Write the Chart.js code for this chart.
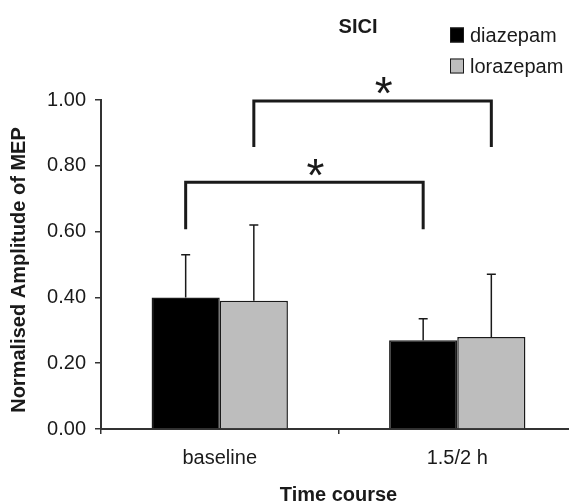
<!DOCTYPE html>
<html>
<head>
<meta charset="utf-8">
<script src="https://cdn.jsdelivr.net/npm/chart.js@4/dist/chart.umd.min.js"></script>
<style>
html,body{margin:0;padding:0;background:#fff;overflow:hidden;width:569px;height:504px;}
canvas{display:block;}
</style>
</head>
<body>
<canvas id="c" width="580" height="504"></canvas>
<script>
const categories = ['baseline', '1.5/2 h'];
const seriesNames = ['diazepam', 'lorazepam'];
const diazepam = [0.40, 0.27];
const lorazepam = [0.39, 0.28];
const diazepamSD = [0.13, 0.065];
const lorazepamSD = [0.23, 0.19];
const yTicks = [0.00, 0.20, 0.40, 0.60, 0.80, 1.00];
const chartTitle = 'SICI';
const yTitle = 'Normalised Amplitude of MEP';
const xTitle = 'Time course';
// significance brackets: dataset, from category, to category, bracket level, leg end level
const sigDataset = [0, 1];
const sigFrom = [0, 0];
const sigTo = [1, 1];
const sigLevel = [0.75, 0.997];
const sigEnd = [0.607, 0.857];
const sigLabel = ['*', '*'];

const FONT = '"Liberation Sans", Arial, sans-serif';
const INK = '#1a1a1a';
const colors = ['#000000', '#bdbdbd'];
const errs = [diazepamSD, lorazepamSD];

const overlay = {
  id: 'overlay',
  afterDatasetsDraw(chart) {
    const ctx = chart.ctx;
    const y = chart.scales.y;
    ctx.save();
    // error bars (upper)
    ctx.strokeStyle = INK;
    ctx.lineWidth = 1.5;
    chart.data.datasets.forEach((ds, di) => {
      const meta = chart.getDatasetMeta(di);
      meta.data.forEach((el, i) => {
        const top = y.getPixelForValue(ds.data[i] + errs[di][i]);
        ctx.beginPath();
        ctx.moveTo(el.x, el.y);
        ctx.lineTo(el.x, top);
        ctx.moveTo(el.x - 4.5, top);
        ctx.lineTo(el.x + 4.5, top);
        ctx.stroke();
      });
    });
    // brackets
    ctx.lineWidth = 3;
    ctx.lineCap = 'butt';
    ctx.lineJoin = 'miter';
    for (let k = 0; k < sigDataset.length; k++) {
      const meta = chart.getDatasetMeta(sigDataset[k]);
      const x1 = meta.data[sigFrom[k]].x;
      const x2 = meta.data[sigTo[k]].x;
      const yl = y.getPixelForValue(sigLevel[k]);
      const ye = y.getPixelForValue(sigEnd[k]);
      ctx.beginPath();
      ctx.moveTo(x1, ye);
      ctx.lineTo(x1, yl);
      ctx.lineTo(x2, yl);
      ctx.lineTo(x2, ye);
      ctx.stroke();
      ctx.fillStyle = INK;
      ctx.font = '46px ' + FONT;
      ctx.textAlign = 'center';
      ctx.textBaseline = 'alphabetic';
      const m = ctx.measureText(sigLabel[k]);
      const cy = yl - 15;
      const base = cy + (m.actualBoundingBoxAscent - m.actualBoundingBoxDescent) / 2;
      ctx.fillText(sigLabel[k], (x1 + x2) / 2 + 11, base);
    }
    ctx.restore();
  },
  afterDraw(chart) {
    const ctx = chart.ctx;
    const area = chart.chartArea;
    ctx.save();
    ctx.fillStyle = INK;
    // title
    ctx.font = 'bold 20px ' + FONT;
    ctx.textAlign = 'center';
    ctx.textBaseline = 'middle';
    ctx.fillText(chartTitle, 358, 27);
    // x title
    ctx.fillText(xTitle, (area.left + area.right) / 2, 495);
    // y title
    ctx.save();
    ctx.translate(19, 270);
    ctx.rotate(-Math.PI / 2);
    ctx.fillText(yTitle, 0, 0);
    ctx.restore();
    // legend
    ctx.font = '20px ' + FONT;
    ctx.textAlign = 'left';
    const ly = [35, 66];
    seriesNames.forEach((n, i) => {
      ctx.fillStyle = colors[i];
      ctx.fillRect(450, ly[i] - 7.5, 14, 15);
      ctx.strokeStyle = INK;
      ctx.lineWidth = 1;
      ctx.strokeRect(450.5, ly[i] - 7, 13, 14);
      ctx.fillStyle = INK;
      ctx.fillText(n, 470, ly[i] + 1);
    });
    ctx.restore();
  }
};

new Chart(document.getElementById('c'), {
  type: 'bar',
  data: {
    labels: categories,
    datasets: [
      { label: seriesNames[0], data: diazepam, backgroundColor: colors[0], borderColor: INK, borderWidth: 1.5 },
      { label: seriesNames[1], data: lorazepam, backgroundColor: colors[1], borderColor: INK, borderWidth: 1.5 }
    ]
  },
  options: {
    responsive: false,
    animation: false,
    devicePixelRatio: 1,
    categoryPercentage: 0.574,
    barPercentage: 1.0,
    layout: { padding: { left: 0, top: 100, right: 4, bottom: 0 } },
    plugins: { legend: { display: false }, title: { display: false }, tooltip: { enabled: false } },
    scales: {
      x: {
        offset: true,
        grid: { display: true, drawOnChartArea: false, drawTicks: true, tickLength: 5, color: '#333', lineWidth: 1.5, offset: true },
        border: { display: true, color: '#333', width: 2 },
        ticks: { font: { family: FONT, size: 20 }, color: INK, padding: 12 },
        afterFit(s) { s.height = 75; }
      },
      y: {
        min: 0, max: 1,
        afterBuildTicks(s) { s.ticks = yTicks.map(v => ({ value: v })); },
        grid: { display: true, drawOnChartArea: false, drawTicks: true, tickLength: 6, color: '#333', lineWidth: 1.5 },
        border: { display: true, color: '#333', width: 2 },
        ticks: { font: { family: FONT, size: 20 }, color: INK, padding: 9, callback: v => Number(v).toFixed(2) },
        afterFit(s) { s.width = 101; }
      }
    }
  },
  plugins: [overlay]
});
</script>
</body>
</html>
